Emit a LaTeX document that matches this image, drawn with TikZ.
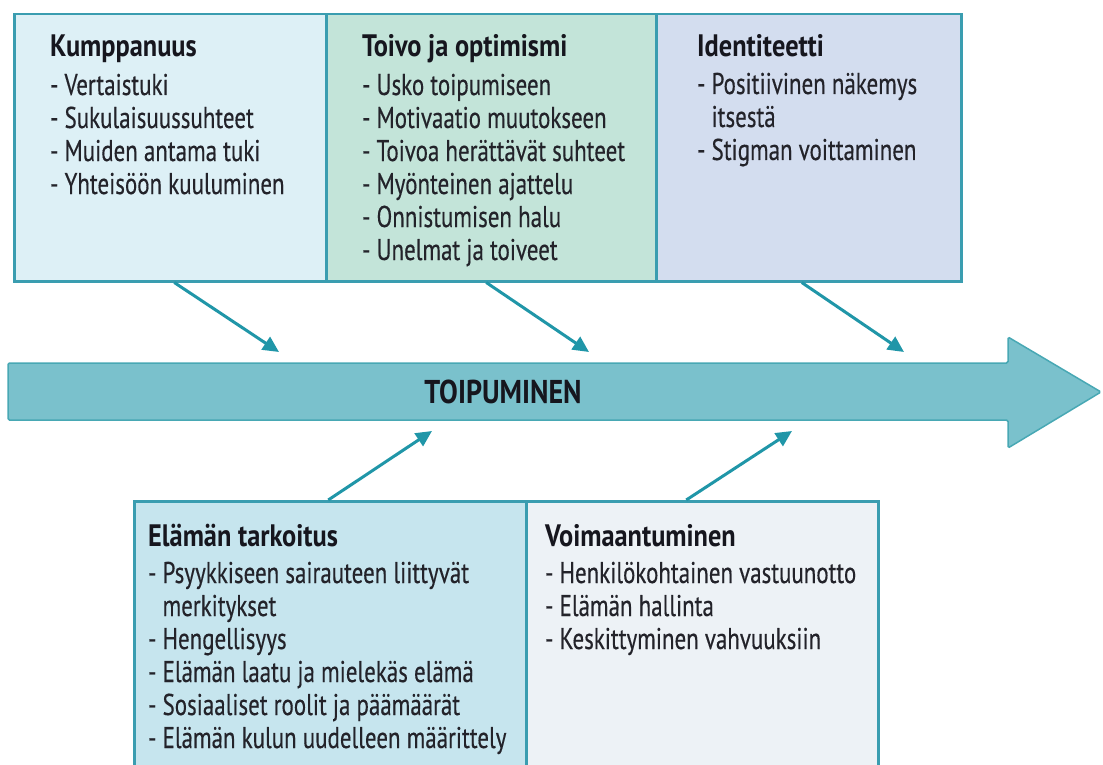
\documentclass[tikz,border=0pt]{standalone}
\usepackage{fontspec}
\setmainfont[FakeStretch=0.765, UprightFeatures={FakeBold=0.35}, BoldFeatures={FakeStretch=0.85}]{PT Sans}
\usetikzlibrary{arrows.meta}
\definecolor{bordercol}{RGB}{58,157,176}
\definecolor{arrowcol}{RGB}{32,150,168}
\definecolor{mainfill}{RGB}{122,193,204}
\definecolor{mainedge}{RGB}{72,168,180}
\definecolor{cA}{RGB}{221,240,246}
\definecolor{cB}{RGB}{195,228,217}
\definecolor{cC}{RGB}{211,221,239}
\definecolor{cD}{RGB}{198,229,238}
\definecolor{cE}{RGB}{237,242,246}
\definecolor{textcol}{RGB}{35,35,42}
\definecolor{titlecol}{RGB}{22,22,30}
\begin{document}
\begin{tikzpicture}[x=1pt,y=-1pt,
  box/.style={draw=bordercol, line width=2.5pt, inner sep=0pt, anchor=north west},
  item/.style={anchor=base west, inner sep=0pt, text=textcol, font=\fontsize{30}{33}\selectfont},
  ttl/.style={anchor=base west, inner sep=0pt, text=titlecol, font=\fontsize{31}{33}\selectfont\bfseries},
  link/.style={draw=arrowcol, line width=3pt, -{Triangle[length=16pt,width=15pt]}}
]
\useasboundingbox (0,0) rectangle (1103,765);

% top boxes
\node[box, fill=cA, minimum width=312pt, minimum height=267pt] (kump) at (13,13) {};
\node[box, fill=cB, minimum width=330pt, minimum height=267pt] (toivo) at (325,13) {};
\node[box, fill=cC, minimum width=305pt, minimum height=267pt] (ident) at (655,13) {};

% bottom boxes
\node[box, fill=cD, minimum width=392pt, minimum height=275pt] (tark) at (133,500) {};
\node[box, fill=cE, minimum width=352pt, minimum height=275pt] (voima) at (525,500) {};

% main arrow
\draw[fill=mainfill, draw=mainedge, line width=1.5pt, rounded corners=1.5pt]
  (8,363) -- (1008,363) -- (1008,337) -- (1101,392) -- (1008,448) -- (1008,420) -- (8,420) -- cycle;
\node[inner sep=0pt, text=titlecol, font=\fontsize{33}{33}\selectfont\bfseries] (toip) at (503,392) {TOIPUMINEN};

% arrow end points on the main arrow
\coordinate (e1) at (279,352);
\coordinate (e2) at (589,352);
\coordinate (e3) at (904,352);
\coordinate (e4) at (432,431);
\coordinate (e5) at (792,431);

\draw[link] ([xshift=4pt]kump.south) -- (e1);
\draw[link] ([xshift=-5pt]toivo.south) -- (e2);
\draw[link] ([xshift=-7pt]ident.south) -- (e3);
\draw[link] ([xshift=-2pt]tark.north) -- (e4);
\draw[link] ([xshift=-16pt]voima.north) -- (e5);

% Kumppanuus
\node[ttl] (k0) at (50,57) {Kumppanuus};
\node[item] (k1) at (50,95) {- Vertaistuki};
\node[item] (k2) at (50,128) {- Sukulaisuussuhteet};
\node[item] (k3) at (50,161) {- Muiden antama tuki};
\node[item] (k4) at (50,194) {- Yhteisöön kuuluminen};

% Toivo ja optimismi
\node[ttl] (t0) at (362,57) {Toivo ja optimismi};
\node[item] (t1) at (362,95) {- Usko toipumiseen};
\node[item] (t2) at (362,128) {- Motivaatio muutokseen};
\node[item] (t3) at (362,161) {- Toivoa herättävät suhteet};
\node[item] (t4) at (362,194) {- Myönteinen ajattelu};
\node[item] (t5) at (362,227) {- Onnistumisen halu};
\node[item] (t6) at (362,260) {- Unelmat ja toiveet};

% Identiteetti
\node[ttl] (i0) at (697,57) {Identiteetti};
\node[item] (i1) at (697,94) {- Positiivinen näkemys};
\node[item] (i2) at (697,127) {\phantom{- }itsestä};
\node[item] (i3) at (697,160) {- Stigman voittaminen};

% Elämän tarkoitus
\node[ttl] (a0) at (148,546) {Elämän tarkoitus};
\node[item] (a1) at (148,583) {- Psyykkiseen sairauteen liittyvät};
\node[item] (a2) at (148,616) {\phantom{- }merkitykset};
\node[item] (a3) at (148,649) {- Hengellisyys};
\node[item] (a4) at (148,682) {- Elämän laatu ja mielekäs elämä};
\node[item] (a5) at (148,715) {- Sosiaaliset roolit ja päämäärät};
\node[item] (a6) at (148,748) {- Elämän kulun uudelleen määrittely};

% Voimaantuminen
\node[ttl] (v0) at (545,546) {Voimaantuminen};
\node[item] (v1) at (545,583) {- Henkilökohtainen vastuunotto};
\node[item] (v2) at (545,616) {- Elämän hallinta};
\node[item] (v3) at (545,649) {- Keskittyminen vahvuuksiin};
\end{tikzpicture}
\end{document}
